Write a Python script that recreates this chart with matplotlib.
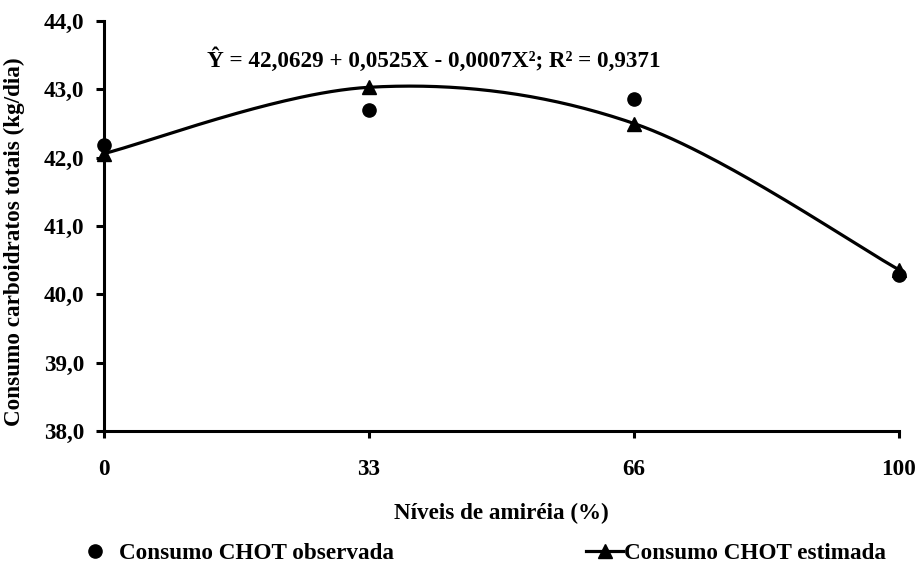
import numpy as np
import matplotlib
matplotlib.use("Agg")
import matplotlib.pyplot as plt
from matplotlib.lines import Line2D

# ---- data ----
niveis = ["0", "33", "66", "100"]
observada = [42.18, 42.70, 42.86, 40.28]
estimada = [42.06, 43.03, 42.50, 40.36]
yticks = [38.0, 39.0, 40.0, 41.0, 42.0, 43.0, 44.0]
ytick_labels = ["38,0", "39,0", "40,0", "41,0", "42,0", "43,0", "44,0"]
equacao = "Ŷ = 42,0629 + 0,0525X - 0,0007X²; R² = 0,9371"

plt.rcParams["font.family"] = ["Liberation Serif", "DejaVu Serif"]
plt.rcParams["font.weight"] = "bold"
FS = 16.7

fig = plt.figure(figsize=(9.2, 5.63), dpi=100)
ax = fig.add_axes([104/920, 1-431/563, (899-104)/920, (431-21)/563])

x = np.arange(len(niveis), dtype=float)

# Excel-like smoothed line (Catmull-Rom via cubic Bezier)
def smooth(xs, ys, n=60):
    P = np.column_stack([xs, ys])
    Pe = np.vstack([P[0], P, P[-1]])
    out = []
    for i in range(len(P) - 1):
        p0, p1, p2, p3 = Pe[i], Pe[i+1], Pe[i+2], Pe[i+3]
        c1 = p1 + (p2 - p0) / 6.0
        c2 = p2 - (p3 - p1) / 6.0
        t = np.linspace(0, 1, n)[:, None]
        b = ((1-t)**3)*p1 + 3*((1-t)**2)*t*c1 + 3*(1-t)*(t**2)*c2 + (t**3)*p2
        out.append(b if i == 0 else b[1:])
    b = np.vstack(out)
    return b[:, 0], b[:, 1]

sx, sy = smooth(x, np.array(estimada))
ax.plot(sx, sy, color="black", lw=2.3, clip_on=False, zorder=3)
ax.plot(x, estimada, linestyle="none", marker="^", ms=10, color="black",
        clip_on=False, zorder=4)
ax.plot(x, observada, linestyle="none", marker="o", ms=9.5, color="black",
        clip_on=False, zorder=5)

ax.set_xlim(0, 3)
ax.set_ylim(38, 44)
ax.set_xticks(x)
ax.set_xticklabels(niveis, fontsize=FS, fontweight="bold")
ax.set_yticks(yticks)
ax.set_yticklabels(ytick_labels, fontsize=FS, fontweight="bold")

for s in ["top", "right"]:
    ax.spines[s].set_visible(False)
for s in ["left", "bottom"]:
    ax.spines[s].set_linewidth(2.2)
ax.tick_params(axis="y", direction="out", length=6, width=2.2, pad=8)
ax.tick_params(axis="x", direction="out", length=5, width=2.2, pad=15)

ax.set_xlabel("Níveis de amiréia (%)", fontsize=FS, fontweight="bold")
ax.xaxis.set_label_coords(0.5, -(503-431)/410)
ax.set_ylabel("Consumo carboidratos totais (kg/dia)", fontsize=FS, fontweight="bold")
ax.yaxis.set_label_coords(-(104-25)/795, (431-242)/410)

ax.text((207-104)/265, 44 - (60-21)/68.3, equacao, fontsize=FS, fontweight="bold",
        ha="left", va="center")

h1 = Line2D([], [], linestyle="none", marker="o", ms=9.5, color="black")
h2 = Line2D([], [], linestyle="-", lw=2.3, marker="^", ms=10, color="black")
yl = 1 - 553/563
leg1 = fig.legend([h1], ["Consumo CHOT observada"], loc="center left",
                  bbox_to_anchor=(76/920, yl), frameon=False, borderpad=0,
                  borderaxespad=0, handlelength=1.6, handletextpad=0.27,
                  prop={"size": FS, "weight": "bold"})
leg2 = fig.legend([h2], ["Consumo CHOT estimada"], loc="center left",
                  bbox_to_anchor=(586/920, yl), frameon=False, borderpad=0,
                  borderaxespad=0, handlelength=1.6, handletextpad=0.05,
                  prop={"size": FS, "weight": "bold"})

fig.savefig("out.png", dpi=100)
